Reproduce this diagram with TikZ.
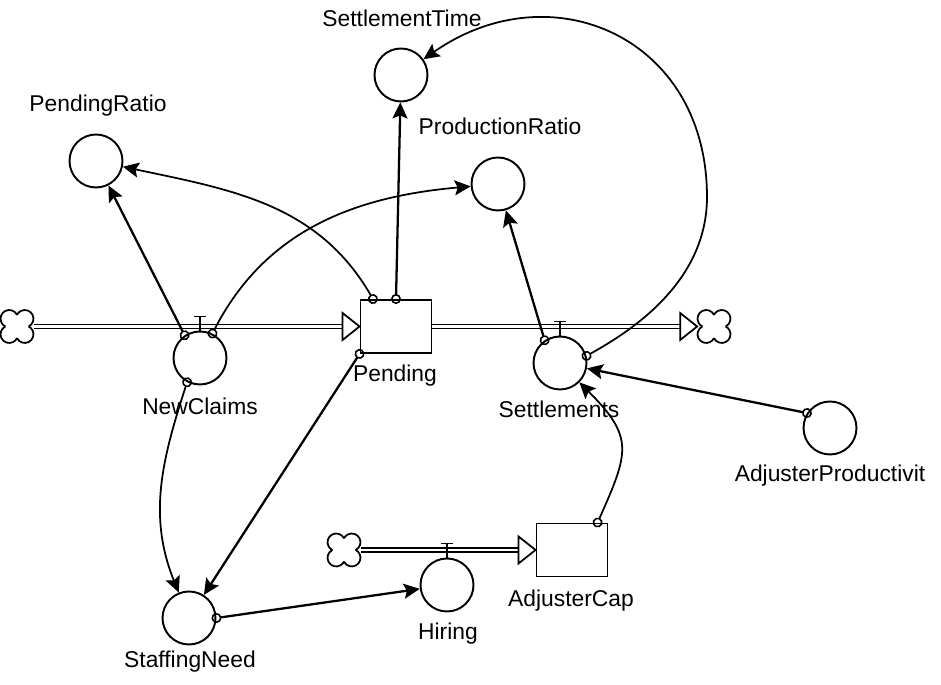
\documentclass[tikz,border=0pt]{standalone}
\usepackage{fontspec}
\setmainfont{Liberation Sans}
\usetikzlibrary{calc,arrows.meta}

\tikzset{
	aux/.style={circle,draw,line width=1.1pt,minimum size=1.06cm,inner sep=0pt},
	stock/.style={rectangle,draw,line width=1.1pt,minimum width=1.42cm,minimum height=1.06cm,inner sep=0pt},
	lbl/.style={font=\fontsize{13}{15}\selectfont,anchor=base,inner sep=0pt},
	puff/.style={circle,minimum size=0.66cm,inner sep=0pt},
	link/.style={line width=1.3pt,shorten <=-0.1cm,
		{Circle[open,length=0.2cm,width=0.2cm,line width=0.9pt]}-{Stealth[length=0.32cm,width=0.3cm,inset=0.06cm]}},
	pipe/.style={draw,line width=0.8pt,double=white,double distance=1.4pt},
	pipehead/.style={draw,line width=1pt,fill=white,line join=miter},
	valve/.style={line width=1pt}
}

\begin{document}
\begin{tikzpicture}[x=0.02cm,y=0.02cm]
	\def\ah{17}		%length of flow arrow head
	\def\aw{13.5}	%half width of flow arrow head
	\useasboundingbox (0,0) rectangle (941,685);

	%stocks, converters, clouds
	\node[aux] (prt) at (96,524) {};
	\node[aux] (stt) at (401,610) {};
	\node[aux] (prd) at (498,501) {};
	\node[stock] (pnd) at (396,358.5) {};
	\node[aux] (nc) at (200,327) {};
	\node[aux] (set) at (560,322) {};
	\node[aux] (adp) at (830,257) {};
	\node[aux] (stf) at (189,67) {};
	\node[aux] (hir) at (447,100) {};
	\node[stock] (adc) at (572,135) {};
	\node[puff] (src) at (17,358.5) {};
	\node[puff] (snk) at (714,358.5) {};
	\node[puff] (hsrc) at (344,135) {};
	\foreach \c in {src,snk,hsrc}{
		\foreach \a in {45,135,225,315}{
			\draw[line width=1pt] (\c) ++(\a:11) ++(\a-108.4:8.7) arc[start angle=\a-108.4,delta angle=216.8,radius=8.7];	%cloud lobes
		}
	}

	%names
	\node[lbl] (prtl) at (98,573) {PendingRatio};
	\node[lbl] (sttl) at (402,658) {SettlementTime};
	\node[lbl] (prdl) at (500,550) {ProductionRatio};
	\node[lbl] (pndl) at (395,303) {Pending};
	\node[lbl] (ncl) at (200,270) {NewClaims};
	\node[lbl] (setl) at (559,267) {Settlements};
	\node[lbl] (adpl) at (830,203) {AdjusterProductivit};
	\node[lbl] (stfl) at (190,17) {StaffingNeed};
	\node[lbl] (hirl) at (448,45) {Hiring};
	\node[lbl] (adcl) at (571,78) {AdjusterCap};

	%flows
	\draw[pipe] (src.east) -- ($(pnd.west)+(-\ah,0)$);
	\draw[pipehead] (pnd.west) -- ++(-\ah,\aw) -- ++(0,-2*\aw) -- cycle;
	\draw[pipe] (pnd.east) -- ($(snk.west)+(-\ah,0)$);
	\draw[pipehead] (snk.west) -- ++(-\ah,\aw) -- ++(0,-2*\aw) -- cycle;
	\draw[pipe] (hsrc.east) -- ($(adc.west)+(-\ah,0)$);
	\draw[pipehead] (adc.west) -- ++(-\ah,\aw) -- ++(0,-2*\aw) -- cycle;
	\foreach \v in {nc,set,hir}{
		\draw[valve] (\v.north) -- ++(0,14) ++(-6,0) -- ++(12,0);	%valve on the pipe
	}

	%connectors
	\draw[link] (nc.124) -- (prt);
	\draw[link,line width=1pt] (pnd.130) to[out=120,in=-12] (prt);
	\draw[link,line width=1pt] (nc.63) to[out=63,in=185] (prd);
	\draw[link] (pnd.north) -- (stt);
	\draw[link] (set.124) -- (prd);
	\coordinate (loop) at (707,488);
	\draw[link,line width=1pt] (set.15) .. controls +(45,25) and +(0,-85) .. (loop)
		.. controls +(0,160) and +(150,105) .. (stt);
	\draw[link] (adp.147) -- (set);
	\draw[link,line width=1pt] (adc.47) to[out=66,in=-45,looseness=1.4] (set);
	\draw[link,line width=1pt] (nc.242) to[out=-108,in=112] (stf);
	\draw[link] (pnd.south west) -- (stf);
	\draw[link] (stf.east) -- (hir);
\end{tikzpicture}
\end{document}
